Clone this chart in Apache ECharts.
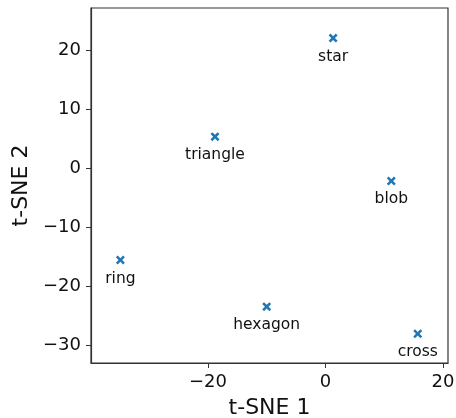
<!DOCTYPE html>
<html>
<head>
<meta charset="utf-8">
<script src="https://cdn.jsdelivr.net/npm/echarts@6/dist/echarts.min.js"></script>
<style>
  html, body { margin: 0; padding: 0; background: #fff; }
  #box { width: 456px; height: 418px; }
</style>
</head>
<body>
<div id="box"></div>
<script>
// 数据
var names = ["star", "triangle", "blob", "ring", "hexagon", "cross"];
var xValues = [1.3, -18.8, 11.2, -34.9, -10.0, 15.7];
var yValues = [22.0, 5.3, -2.2, -15.6, -23.5, -28.1];
var xTicks = [-20, 0, 20];
var yTicks = [-30, -20, -10, 0, 10, 20];

var points = names.map(function (n, i) {
    return { name: n, value: [xValues[i], yValues[i]] };
});

var font = "DejaVu Sans";
// matplotlib 风格的负号
function fmt(v) { return String(v).replace("-", "\u2212"); }

var myChart = echarts.init(document.getElementById("box"));
var option = {
    animation: false,
    grid: {
        left: 91, top: 8, right: 8, bottom: 55,
        outerBoundsMode: "none",
        show: true, borderColor: "#333", borderWidth: 1.2
    },
    xAxis: {
        type: "value",
        min: -39.9, max: 20.85,
        name: "t-SNE 1",
        nameLocation: "middle",
        nameGap: 34,
        nameTextStyle: { fontFamily: font, fontSize: 22, color: "#111" },
        splitLine: { show: false },
        axisLine: { show: true, onZero: false, lineStyle: { color: "#333", width: 1.2 } },
        axisTick: { show: true, length: 5, lineStyle: { color: "#333" }, customValues: xTicks },
        axisLabel: { fontFamily: font, fontSize: 18, color: "#111", margin: 10, customValues: xTicks, formatter: fmt }
    },
    yAxis: {
        type: "value",
        min: -33.05, max: 27.1,
        name: "t-SNE 2",
        nameLocation: "middle",
        nameGap: 55,
        nameTextStyle: { fontFamily: font, fontSize: 22, color: "#111" },
        splitLine: { show: false },
        axisLine: { show: true, onZero: false, lineStyle: { color: "#333", width: 1.2 } },
        axisTick: { show: true, length: 5, lineStyle: { color: "#333" }, customValues: yTicks },
        axisLabel: { fontFamily: font, fontSize: 18, color: "#111", margin: 10, customValues: yTicks, formatter: fmt }
    },
    series: [{
        type: "scatter",
        data: points,
        symbol: "path://M0,2L2,0L5,3L8,0L10,2L7,5L10,8L8,10L5,7L2,10L0,8L3,5Z",
        symbolSize: 9,
        itemStyle: { color: "#1f77b4", opacity: 1 },
        label: {
            show: true,
            position: "bottom",
            distance: 6,
            formatter: "{b}",
            fontFamily: font,
            fontSize: 15.5,
            color: "#111"
        }
    }]
};
myChart.setOption(option);
</script>
</body>
</html>
